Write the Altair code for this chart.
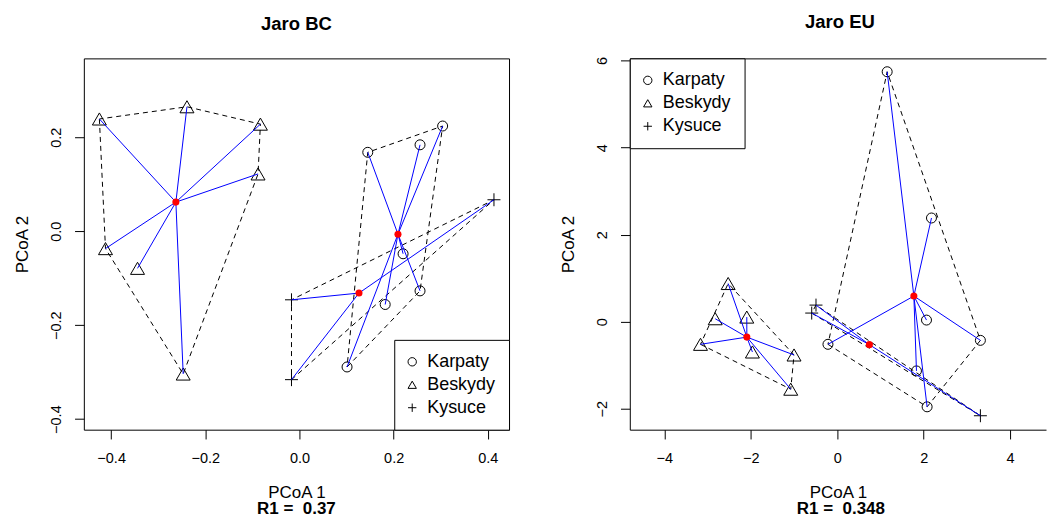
import altair as alt
import pandas as pd

GROUPS = ["Karpaty", "Beskydy", "Kysuce"]
SHAPES = ["circle", "triangle-up", "M-1,0L1,0M0,-1L0,1"]
TITLES = ["Jaro BC", "Jaro EU"]
R1_LABELS = ["R1 =\u00a0\u00a00.37", "R1 =\u00a0\u00a00.348"]

# ---- Jaro BC (PCoA 1 / PCoA 2) ----
bc_karpaty_x = [0.145, 0.256, 0.304, 0.220, 0.256, 0.182, 0.101]
bc_karpaty_y = [0.168, 0.184, 0.224, -0.048, -0.127, -0.156, -0.289]
bc_beskydy_x = [-0.425, -0.239, -0.083, -0.088, -0.412, -0.344, -0.247]
bc_beskydy_y = [0.239, 0.265, 0.228, 0.122, -0.037, -0.079, -0.304]
bc_kysuce_x = [-0.017, -0.017, 0.413]
bc_kysuce_y = [-0.146, -0.316, 0.067]

# ---- Jaro EU ----
eu_karpaty_x = [1.155, 2.180, 2.065, 3.312, -0.215, 1.833, 2.079]
eu_karpaty_y = [5.743, 2.383, 0.038, -0.428, -0.519, -1.130, -1.955]
eu_beskydy_x = [-2.524, -2.824, -2.093, -3.164, -1.963, -1.000, -1.076]
eu_beskydy_y = [0.878, 0.069, 0.107, -0.519, -0.695, -0.764, -1.550]
eu_kysuce_x = [-0.492, -0.591, 3.312]
eu_kysuce_y = [0.382, 0.199, -2.160]

BC_XTICKS = [-0.4, -0.2, 0.0, 0.2, 0.4]
BC_YTICKS = [-0.4, -0.2, 0.0, 0.2]
EU_XTICKS = [-4, -2, 0, 2, 4]
EU_YTICKS = [-2, 0, 2, 4, 6]

FONT = "Liberation Sans"
SIZE_EXPR = ("datum.group === 'Karpaty' ? 100 : "
             "(datum.group === 'Beskydy' ? 196 : 169)")


def convex_hull(pts):
    pts = sorted(set(pts))
    if len(pts) <= 2:
        return pts

    def cross(o, a, b):
        return (a[0] - o[0]) * (b[1] - o[1]) - (a[1] - o[1]) * (b[0] - o[0])

    lower, upper = [], []
    for p in pts:
        while len(lower) >= 2 and cross(lower[-2], lower[-1], p) <= 0:
            lower.pop()
        lower.append(p)
    for p in reversed(pts):
        while len(upper) >= 2 and cross(upper[-2], upper[-1], p) <= 0:
            upper.pop()
        upper.append(p)
    return lower[:-1] + upper[:-1]


def frames(coords):
    pts, cents, spider, hulls = [], [], [], []
    for g in GROUPS:
        xs, ys = coords[g]
        cx, cy = sum(xs) / len(xs), sum(ys) / len(ys)
        cents.append({"group": g, "x": cx, "y": cy})
        for i, (x, y) in enumerate(zip(xs, ys)):
            pts.append({"group": g, "x": x, "y": y})
            sid = f"{g}{i}"
            spider.append({"sid": sid, "order": 0, "x": cx, "y": cy})
            spider.append({"sid": sid, "order": 1, "x": x, "y": y})
        h = convex_hull(list(zip(xs, ys)))
        h = h + [h[0]]
        for k, (x, y) in enumerate(h):
            hulls.append({"group": g, "order": k, "x": x, "y": y})
    return (pd.DataFrame(pts), pd.DataFrame(cents),
            pd.DataFrame(spider), pd.DataFrame(hulls))


def make_panel(coords, title, r1, xdom, ydom, xticks, yticks, fmt, width, height,
               legend_orient, framed, r1_x, title_dx):
    pts, cents, spider, hulls = frames(coords)
    xs = alt.Scale(domain=xdom, nice=False, zero=False)
    ys = alt.Scale(domain=ydom, nice=False, zero=False)
    x_axis = alt.Axis(values=xticks, format=fmt, title="PCoA 1", grid=False,
                      domain=not framed, orient="bottom")
    y_axis = alt.Axis(values=yticks, format=fmt, title="PCoA 2", grid=False,
                      domain=not framed, orient="left")

    points = alt.Chart(pts).transform_calculate(msize=SIZE_EXPR).mark_point(
        filled=False, color="black", opacity=1, strokeWidth=1).encode(
        x=alt.X("x:Q", scale=xs, axis=x_axis),
        y=alt.Y("y:Q", scale=ys, axis=y_axis),
        shape=alt.Shape("group:N", scale=alt.Scale(domain=GROUPS, range=SHAPES),
                        legend=alt.Legend(title=None, orient=legend_orient, offset=0,
                                          padding=13, rowPadding=5, labelOffset=6,
                                          symbolOffset=-4,
                                          strokeColor="black", fillColor="white",
                                          labelFont=FONT, labelFontSize=18,
                                          labelColor="black", symbolSize=70,
                                          symbolStrokeWidth=1,
                                          symbolStrokeColor="black",
                                          symbolFillColor="transparent",
                                          cornerRadius=0)),
        size=alt.Size("msize:Q", scale=None),
    )

    hull = alt.Chart(hulls).mark_line(color="black", strokeWidth=1,
                                      strokeDash=[5, 4]).encode(
        x=alt.X("x:Q", scale=xs, axis=None),
        y=alt.Y("y:Q", scale=ys, axis=None),
        detail="group:N",
        order=alt.Order("order:Q"),
    )

    if framed:
        spider_x = alt.X("x:Q", scale=xs, axis=None)
    else:
        spider_x = alt.X("x:Q", scale=xs,
                         axis=alt.Axis(orient="top", labels=False, ticks=False,
                                       domain=True, grid=False, title=None))
    spid = alt.Chart(spider).mark_line(color="blue", strokeWidth=1).encode(
        x=spider_x,
        y=alt.Y("y:Q", scale=ys, axis=None),
        detail="sid:N",
        order=alt.Order("order:Q"),
    )

    cent = alt.Chart(cents).mark_point(filled=True, color="red", opacity=1,
                                       size=50, shape="circle").encode(
        x=alt.X("x:Q", scale=xs, axis=None),
        y=alt.Y("y:Q", scale=ys, axis=None),
    )

    r1_text = alt.Chart(pd.DataFrame({"label": [r1]})).mark_text(
        font=FONT, fontSize=17, fontWeight="bold", align="center",
        baseline="alphabetic", color="black").encode(
        x=alt.value(r1_x), y=alt.value(height + 84), text="label:N")

    layer = alt.layer(points, hull, spid, cent, r1_text).properties(
        width=width, height=height,
        title=alt.Title(title, dx=title_dx),
    ).resolve_axis(x="independent", y="independent")
    if framed:
        layer = layer.properties(view=alt.ViewBackground(stroke="black"))
    else:
        layer = layer.properties(view=alt.ViewBackground(stroke="transparent"))
    return layer


bc = make_panel(
    {"Karpaty": (bc_karpaty_x, bc_karpaty_y),
     "Beskydy": (bc_beskydy_x, bc_beskydy_y),
     "Kysuce": (bc_kysuce_x, bc_kysuce_y)},
    TITLES[0], R1_LABELS[0], [-0.458, 0.445], [-0.4225, 0.368],
    BC_XTICKS, BC_YTICKS, ".1f", 426, 372, "bottom-right", True, 213, 0)

eu = make_panel(
    {"Karpaty": (eu_karpaty_x, eu_karpaty_y),
     "Beskydy": (eu_beskydy_x, eu_beskydy_y),
     "Kysuce": (eu_kysuce_x, eu_kysuce_y)},
    TITLES[1], R1_LABELS[1], [-4.80, 4.83], [-2.48, 6.05],
    EU_XTICKS, EU_YTICKS, "d", 417, 372, "top-left", False, 211.5, 2)

chart = alt.hconcat(bc, eu, spacing=121, bounds="flush").resolve_scale(
    shape="independent"
).resolve_legend(shape="independent").properties(
    padding={"left": 12, "top": 12, "right": 0, "bottom": 0},
    background="white",
).configure_view(
    stroke="black", strokeWidth=1
).configure_axis(
    labelFont=FONT, labelFontSize=14.5, labelColor="black",
    titleFont=FONT, titleFontSize=17, titleFontWeight="normal", titleColor="black",
    tickColor="black", tickSize=9.3, tickWidth=1, domainColor="black", domainWidth=1,
    grid=False,
).configure_axisBottom(
    labelPadding=23.7, labelBaseline="alphabetic", titleY=67.7,
    titleBaseline="alphabetic",
).configure_axisLeft(
    labelAngle=270, labelAlign="center", labelBaseline="alphabetic",
    labelPadding=14, titleX=-56.8, titleBaseline="alphabetic", titleAngle=270,
).configure_title(
    font=FONT, fontSize=18.5, fontWeight="bold", color="black", anchor="middle",
    baseline="alphabetic", offset=24.6,
)

chart.save("out.html", embed_options={"renderer": "svg", "actions": False})
